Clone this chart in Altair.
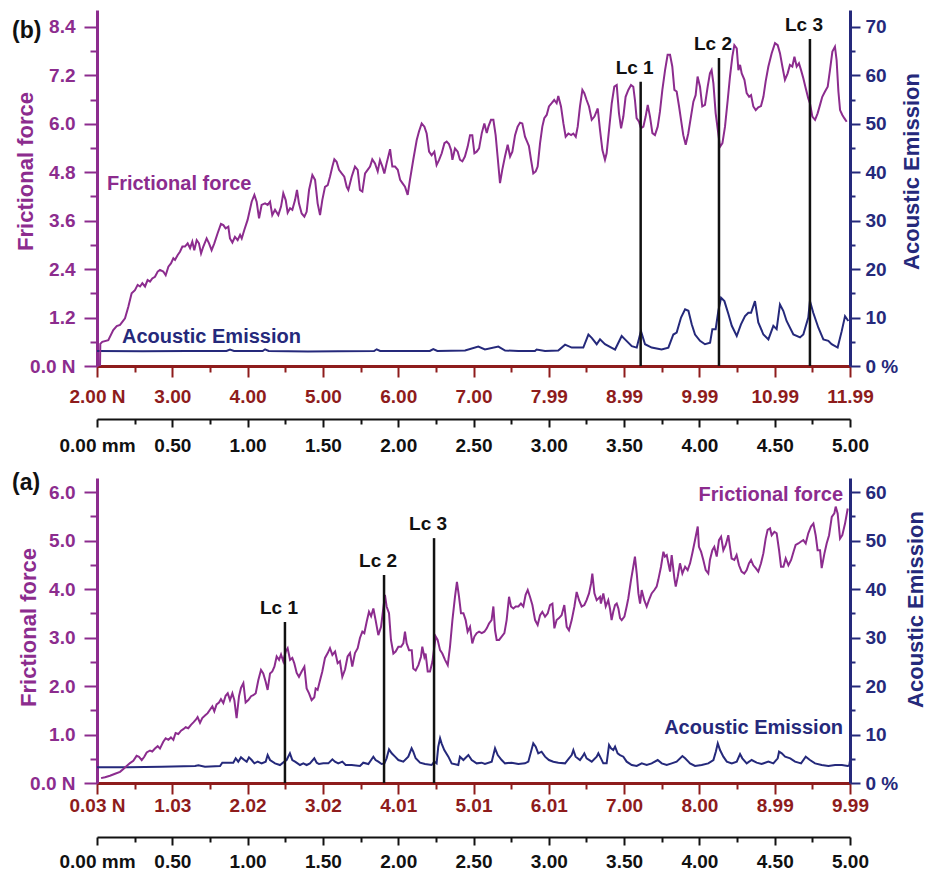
import json
import altair as alt
import pandas as pd

FONT = "Liberation Sans"
PURPLE = "#8C2C8E"
NAVY = "#25297B"
DARKRED = "#8E1C1C"
BLACK = "#111111"

# ---------------- shared tick values / labels ----------------
mm_ticks = [0, 0.25, 0.5, 0.75, 1.0, 1.25, 1.5, 1.75, 2.0, 2.25, 2.5, 2.75,
            3.0, 3.25, 3.5, 3.75, 4.0, 4.25, 4.5, 4.75, 5.0]
mm_labels = ["0.00 mm", "0.50", "1.00", "1.50", "2.00", "2.50", "3.00",
             "3.50", "4.00", "4.50", "5.00"]
lc_names = ["Lc 1", "Lc 2", "Lc 3"]

# ---------------- panel (b) ----------------
b_load_labels = ["2.00 N", "3.00", "4.00", "5.00", "6.00", "7.00", "7.99",
                 "8.99", "9.99", "10.99", "11.99"]
b_ff_ticks = [0, 0.6, 1.2, 1.8, 2.4, 3.0, 3.6, 4.2, 4.8, 5.4, 6.0, 6.6, 7.2, 7.8, 8.4]
b_ff_labels = ["0.0 N", "1.2", "2.4", "3.6", "4.8", "6.0", "7.2", "8.4"]
b_ae_ticks = [0, 5, 10, 15, 20, 25, 30, 35, 40, 45, 50, 55, 60, 65, 70]
b_ae_labels = ["0 %", "10", "20", "30", "40", "50", "60", "70"]

b_ff_mm = [0.020, 0.022, 0.035, 0.075, 0.108, 0.131, 0.153, 0.186, 0.208, 0.230,
           0.252, 0.270, 0.286, 0.301, 0.319, 0.336, 0.352, 0.367, 0.385, 0.403,
           0.418, 0.440, 0.456, 0.474, 0.491, 0.507, 0.518, 0.536, 0.551, 0.567,
           0.584, 0.602, 0.618, 0.633, 0.646, 0.662, 0.677, 0.691, 0.706, 0.728,
           0.744, 0.761, 0.779, 0.801, 0.823, 0.839, 0.854, 0.872, 0.883, 0.899,
           0.916, 0.934, 0.950, 0.961, 0.978, 1.000, 1.027, 1.045, 1.060, 1.076,
           1.093, 1.116, 1.133, 1.149, 1.164, 1.182, 1.204, 1.222, 1.237, 1.253,
           1.266, 1.282, 1.297, 1.315, 1.328, 1.341, 1.359, 1.377, 1.392, 1.408,
           1.430, 1.448, 1.465, 1.481, 1.496, 1.514, 1.532, 1.547, 1.563, 1.576,
           1.591, 1.607, 1.625, 1.642, 1.658,
           1.669, 1.691, 1.713, 1.731, 1.746, 1.762, 1.780, 1.797, 1.813, 1.828,
           1.846, 1.864, 1.879, 1.895, 1.908, 1.923, 1.946, 1.961, 1.979, 1.997,
           2.013, 2.028, 2.045, 2.063, 2.078, 2.100, 2.123, 2.138, 2.156, 2.174,
           2.189, 2.205, 2.222, 2.240, 2.255, 2.271, 2.289, 2.307, 2.322, 2.337,
           2.351, 2.360, 2.377, 2.395, 2.410, 2.426, 2.443, 2.461, 2.477, 2.492,
           2.506, 2.521, 2.537, 2.555, 2.572, 2.588, 2.599, 2.616, 2.632, 2.647,
           2.660, 2.676, 2.691, 2.709, 2.727, 2.743, 2.758, 2.776, 2.793, 2.809,
           2.824, 2.842, 2.860, 2.868, 2.882, 2.897, 2.913, 2.926, 2.942, 2.957,
           2.970, 2.986, 3.001, 3.019, 3.036, 3.052, 3.063, 3.081, 3.097, 3.112,
           3.130, 3.148, 3.163, 3.179, 3.192, 3.207, 3.223, 3.236, 3.251, 3.267,
           3.285, 3.303,
           3.325, 3.340, 3.356, 3.373, 3.384, 3.400, 3.418, 3.435, 3.451, 3.466,
           3.480, 3.495, 3.510, 3.528, 3.546, 3.561, 3.572, 3.583, 3.599, 3.612,
           3.628, 3.643, 3.657, 3.672, 3.688, 3.705, 3.723, 3.738, 3.754, 3.772,
           3.789, 3.805, 3.820, 3.834, 3.849, 3.865, 3.878, 3.893, 3.909, 3.926,
           3.944, 3.960, 3.975, 3.988, 4.004, 4.019, 4.037, 4.055, 4.070, 4.081,
           4.093, 4.108, 4.121, 4.137, 4.153, 4.170, 4.188, 4.203, 4.219, 4.232,
           4.248, 4.259, 4.270, 4.281, 4.299, 4.314, 4.330, 4.343, 4.358, 4.374,
           4.391, 4.409, 4.425, 4.440, 4.458, 4.480, 4.502, 4.520, 4.535, 4.551,
           4.568, 4.586, 4.601, 4.617, 4.631, 4.646, 4.661, 4.675, 4.690, 4.706,
           4.723, 4.734, 4.750, 4.768, 4.785, 4.801, 4.816, 4.834, 4.852, 4.867,
           4.883, 4.900, 4.911, 4.923, 4.934, 4.949, 4.962, 4.978]
b_ff = [0.00, 0.55, 0.60, 0.64, 0.89, 0.99, 1.02, 1.18, 1.47, 1.80,
        1.88, 2.01, 1.97, 2.05, 1.97, 2.13, 2.09, 2.17, 2.21, 2.34,
        2.38, 2.34, 2.25, 2.46, 2.54, 2.67, 2.63, 2.75, 2.83, 2.96,
        2.96, 3.04, 2.92, 3.08, 2.87, 3.12, 3.04, 2.79, 2.96, 3.16,
        3.04, 2.87, 3.04, 3.29, 3.52, 3.49, 3.41, 3.45, 3.16, 3.06,
        3.20, 3.12, 3.25, 3.16, 3.37, 3.62, 4.07, 4.24, 4.07, 3.66,
        3.99, 4.03, 3.99, 4.07, 3.74, 3.87, 3.74, 3.95, 4.28, 4.11,
        3.80, 3.91, 3.87, 4.11, 4.36, 4.03, 3.78, 3.70, 3.82, 4.36,
        4.73, 4.61, 4.03, 3.74, 4.11, 4.44, 4.48, 4.69, 4.94, 5.12,
        5.06, 4.86, 4.77, 4.69, 4.44,
        4.36, 4.69, 4.94, 4.86, 4.36, 4.32, 4.77, 4.86, 4.94, 5.12,
        5.02, 4.82, 5.10, 4.94, 4.77, 5.02, 5.37, 4.94, 4.94, 4.86,
        4.61, 4.53, 4.44, 4.24, 4.61, 5.11, 5.60, 5.81, 6.01, 5.93,
        5.76, 5.31, 5.22, 5.31, 4.98, 5.10, 5.27, 5.52, 5.56, 5.50,
        5.35, 5.11, 5.39, 5.31, 5.11, 5.07, 5.19, 5.43, 5.72, 5.72,
        5.27, 5.31, 5.39, 5.77, 6.01, 5.77, 5.93, 6.10, 6.10, 5.72,
        5.19, 4.53, 4.86, 5.19, 5.48, 5.19, 5.31, 5.72, 5.93, 6.03,
        6.01, 5.68, 5.52, 5.45, 5.11, 4.77, 4.82, 4.94, 5.52, 5.93,
        6.14, 6.22, 6.43, 6.51, 6.59, 6.51, 6.69, 6.43, 6.01, 5.68,
        5.76, 5.72, 5.76, 5.68, 5.93, 6.43, 6.84, 6.76, 6.59, 6.43,
        6.10, 6.18,
        6.38, 5.85, 5.35, 5.11, 5.27, 5.85, 6.51, 6.92, 6.96, 6.26,
        5.89, 6.18, 6.67, 6.84, 6.96, 6.92, 6.59, 6.14, 6.05, 5.89,
        5.93, 6.18, 6.47, 6.18, 5.77, 5.72, 5.93, 6.30, 6.84, 7.33,
        7.71, 7.71, 7.42, 6.84, 6.80, 6.43, 6.10, 5.72, 5.48, 5.76,
        6.18, 6.55, 6.71, 7.17, 6.92, 6.43, 6.47, 6.92, 7.25, 7.33,
        7.00, 6.26, 5.89, 5.43, 5.52, 5.93, 6.59, 7.17, 7.67, 7.95,
        7.87, 7.33, 7.46, 7.25, 7.09, 6.76, 6.67, 6.71, 6.43, 6.34,
        6.41, 6.44, 6.67, 7.05, 7.42, 7.75, 8.00, 7.95, 7.75, 7.42,
        7.09, 7.25, 7.46, 7.42, 7.66, 7.42, 7.50, 7.33, 7.13, 6.88,
        6.63, 6.51, 6.18, 6.10, 6.26, 6.47, 6.67, 6.80, 6.92, 7.33,
        7.79, 7.91, 7.58, 6.80, 6.34, 6.22, 6.14, 6.05]

b_ae_mm = [0.0, 0.3, 0.6, 0.86, 0.883, 0.91, 1.1, 1.116, 1.14, 1.4, 1.6, 1.84,
           1.857, 1.88, 2.0, 2.21, 2.233, 2.26, 2.444, 2.532, 2.576, 2.665, 2.710,
           2.798, 2.908, 2.919, 2.975, 3.063, 3.108, 3.152, 3.229, 3.263, 3.285,
           3.318, 3.340, 3.373, 3.440, 3.484, 3.506, 3.551, 3.584, 3.606, 3.612,
           3.639, 3.683, 3.749, 3.794, 3.827, 3.849, 3.878, 3.905, 3.927, 3.949,
           3.971, 4.004, 4.037, 4.071, 4.086, 4.108, 4.126, 4.144, 4.166, 4.193,
           4.215, 4.248, 4.276, 4.303, 4.325, 4.343, 4.369, 4.391, 4.425, 4.458,
           4.491, 4.513, 4.535, 4.557, 4.579, 4.624, 4.668, 4.690, 4.723, 4.734,
           4.756, 4.790, 4.823, 4.856, 4.878, 4.918, 4.945, 4.967, 4.989]
b_ae = [3.1, 3.05, 3.1, 3.1, 3.4, 3.1, 3.1, 3.45, 3.1, 3.0, 3.05, 3.1,
        3.45, 3.1, 3.1, 3.1, 3.5, 3.1, 3.2, 4.0, 3.4, 4.0, 3.2,
        3.1, 3.1, 3.4, 3.1, 3.2, 4.4, 3.8, 3.8, 6.5, 5.8,
        4.5, 5.5, 4.5, 3.4, 6.2, 5.5, 4.1, 3.8, 6.5, 7.2,
        4.5, 3.8, 3.4, 3.8, 6.5, 6.9, 10.0, 11.7, 11.4, 8.6,
        6.5, 5.2, 4.5, 4.8, 7.6, 7.6, 11.4, 14.1, 13.4, 10.7,
        8.3, 6.2, 8.6, 10.3, 11.0, 11.0, 13.4, 9.0, 6.5, 5.5,
        8.3, 7.6, 12.7, 11.4, 9.3, 6.5, 5.9, 6.5, 10.0, 13.4,
        11.0, 7.9, 5.5, 5.2, 4.5, 3.8, 7.2, 10.3, 9.3]

b_lc_mm = [3.610, 4.130, 4.734]
b_lc_top = [7.04, 7.63, 8.10]

# ---------------- panel (a) ----------------
a_load_labels = ["0.03 N", "1.03", "2.02", "3.02", "4.01", "5.01", "6.01",
                 "7.00", "8.00", "8.99", "9.99"]
a_ff_ticks = [0, 0.5, 1.0, 1.5, 2.0, 2.5, 3.0, 3.5, 4.0, 4.5, 5.0, 5.5, 6.0]
a_ff_labels = ["0.0 N", "1.0", "2.0", "3.0", "4.0", "5.0", "6.0"]
a_ae_ticks = [0, 5, 10, 15, 20, 25, 30, 35, 40, 45, 50, 55, 60]
a_ae_labels = ["0 %", "10", "20", "30", "40", "50", "60"]

a_ff_mm = [0.027, 0.053, 0.086, 0.120, 0.153, 0.175, 0.197, 0.219, 0.241, 0.263,
           0.279, 0.297, 0.314, 0.330, 0.352, 0.367, 0.385, 0.403, 0.418, 0.440,
           0.456, 0.474, 0.491, 0.507, 0.522, 0.540, 0.558, 0.573, 0.589, 0.606,
           0.624, 0.640, 0.655, 0.668, 0.684, 0.699, 0.717, 0.735, 0.750, 0.766,
           0.779, 0.794, 0.810, 0.823, 0.839, 0.854, 0.868, 0.883, 0.899, 0.912,
           0.927, 0.943, 0.956, 0.972, 0.987, 1.005, 1.023, 1.038, 1.054, 1.071,
           1.089, 1.104, 1.120, 1.133, 1.149, 1.164, 1.178, 1.193, 1.209, 1.222,
           1.237, 1.253, 1.266, 1.282, 1.297, 1.310, 1.326, 1.341, 1.359, 1.377,
           1.392, 1.408, 1.425, 1.443, 1.452, 1.465, 1.481, 1.496, 1.514, 1.532,
           1.547, 1.563, 1.581, 1.598, 1.613, 1.629, 1.647, 1.664, 1.680,
           1.695, 1.713, 1.731, 1.746, 1.762, 1.775, 1.791, 1.806, 1.820, 1.835,
           1.850, 1.868, 1.886, 1.901, 1.912, 1.923, 1.939, 1.952, 1.968, 1.983,
           2.001, 2.019, 2.034, 2.045, 2.056, 2.072, 2.090, 2.100, 2.116, 2.134,
           2.151, 2.160, 2.174, 2.182, 2.196, 2.211, 2.227, 2.240, 2.249, 2.262,
           2.278, 2.293, 2.311, 2.329, 2.344, 2.360, 2.377, 2.390, 2.404, 2.417,
           2.433, 2.448, 2.461, 2.477, 2.492, 2.506, 2.521, 2.537, 2.555, 2.572,
           2.588, 2.603, 2.620, 2.632, 2.643, 2.654, 2.670, 2.687, 2.705, 2.720,
           2.736, 2.749, 2.765, 2.780, 2.798, 2.815, 2.831, 2.846, 2.860, 2.875,
           2.891, 2.909, 2.926, 2.942, 2.957, 2.975, 2.993, 3.008, 3.024, 3.037,
           3.052, 3.068, 3.085, 3.103, 3.119, 3.134, 3.152, 3.170, 3.185, 3.201,
           3.218, 3.236, 3.251, 3.267, 3.281, 3.289, 3.303, 3.318, 3.340,
           3.346, 3.362, 3.378, 3.395, 3.406, 3.417, 3.428, 3.440, 3.451, 3.462,
           3.473, 3.484, 3.502, 3.517, 3.528, 3.546, 3.561, 3.572, 3.584, 3.595,
           3.606, 3.617, 3.634, 3.650, 3.665, 3.683, 3.701, 3.716, 3.727, 3.745,
           3.761, 3.771, 3.783, 3.794, 3.805, 3.816, 3.834, 3.843, 3.856, 3.871,
           3.887, 3.905, 3.922, 3.938, 3.953, 3.971, 3.989, 3.997, 4.011, 4.026,
           4.042, 4.059, 4.070, 4.086, 4.099, 4.115, 4.130, 4.144, 4.159, 4.175,
           4.192, 4.203, 4.214, 4.232, 4.247, 4.263, 4.280, 4.298, 4.314, 4.329,
           4.343, 4.358, 4.374, 4.391, 4.409, 4.425, 4.440, 4.453, 4.469, 4.480,
           4.498, 4.513, 4.529, 4.542, 4.558, 4.573, 4.591, 4.609, 4.625, 4.639,
           4.657, 4.675, 4.690, 4.706, 4.723, 4.741, 4.757, 4.772, 4.785, 4.801,
           4.812, 4.830, 4.845, 4.861, 4.879, 4.896, 4.905, 4.918, 4.934, 4.949,
           4.967, 4.985]
a_ff = [0.10, 0.12, 0.15, 0.19, 0.23, 0.29, 0.35, 0.41, 0.46, 0.56,
        0.54, 0.47, 0.54, 0.63, 0.67, 0.65, 0.71, 0.76, 0.71, 0.85,
        0.92, 0.89, 0.94, 0.89, 1.03, 1.01, 1.08, 1.11, 1.15, 1.13,
        1.20, 1.25, 1.30, 1.36, 1.24, 1.34, 1.39, 1.44, 1.51, 1.58,
        1.48, 1.62, 1.66, 1.73, 1.65, 1.80, 1.85, 1.71, 1.85, 1.71,
        1.34, 1.79, 1.96, 2.06, 1.66, 1.71, 1.79, 1.81, 1.85, 2.12,
        2.33, 2.26, 2.09, 1.92, 2.26, 2.30, 2.40, 2.61, 2.54, 2.65,
        2.51, 2.71, 2.78, 2.54, 2.58, 2.47, 2.27, 2.19, 2.30, 2.40,
        1.95, 1.85, 1.71, 1.77, 1.95, 1.92, 2.12, 2.30, 2.58, 2.68,
        2.78, 2.64, 2.71, 2.47, 2.51, 2.19, 2.34, 2.61, 2.68,
        2.40, 2.68, 2.78, 2.99, 3.12, 3.09, 3.33, 3.53, 3.44, 3.60,
        3.36, 3.05, 3.22, 3.60, 3.88, 3.64, 3.50, 2.95, 2.67, 2.71,
        2.81, 2.81, 2.88, 3.12, 2.88, 2.74, 2.74, 2.36, 2.32, 2.43,
        2.60, 2.81, 2.60, 2.67, 2.30, 2.30, 2.50, 2.81, 3.02, 2.95,
        2.74, 2.67, 2.54, 2.43, 2.81, 3.36, 3.84, 4.15, 3.84, 3.50,
        3.50, 3.36, 3.12, 3.22, 2.88, 3.02, 3.09, 3.12, 3.09, 3.12,
        3.19, 3.29, 3.36, 3.64, 3.15, 2.95, 2.95, 3.02, 3.09, 3.36,
        3.84, 3.64, 3.60, 3.64, 3.64, 3.70, 3.64, 3.88, 3.98, 3.84,
        3.67, 3.36, 3.26, 3.46, 3.53, 3.43, 3.50, 3.67, 3.70, 3.19,
        3.36, 3.40, 3.46, 3.67, 3.22, 3.15, 3.36, 3.64, 3.94, 3.77,
        3.64, 3.67, 3.77, 3.91, 4.12, 4.32, 3.91, 3.77, 3.84,
        3.70, 3.91, 3.64, 3.77, 3.60, 3.36, 3.53, 3.67, 3.70, 3.60,
        3.40, 3.36, 3.43, 3.64, 3.81, 4.19, 4.46, 4.67, 4.32, 3.91,
        3.70, 3.98, 3.77, 3.64, 3.77, 3.91, 3.98, 4.05, 4.19, 4.46,
        4.77, 4.67, 4.70, 4.53, 4.36, 4.70, 4.22, 4.05, 4.25, 4.53,
        4.32, 4.46, 4.39, 4.53, 4.74, 5.01, 5.29, 4.87, 4.77, 4.60,
        4.39, 4.32, 4.60, 4.80, 4.87, 4.67, 5.01, 5.08, 4.80, 4.91,
        5.11, 4.87, 4.63, 4.60, 4.70, 4.49, 4.36, 4.32, 4.39, 4.53,
        4.60, 4.49, 4.43, 4.36, 4.53, 4.74, 5.04, 5.22, 5.25, 5.11,
        5.18, 5.15, 4.80, 4.46, 4.46, 4.63, 4.49, 4.60, 4.77, 4.91,
        4.94, 4.98, 5.01, 4.94, 5.15, 5.29, 5.35, 5.11, 4.80, 4.80,
        4.43, 4.73, 4.94, 5.11, 5.49, 5.56, 5.70, 5.56, 5.04, 5.11,
        5.35, 5.66]

a_ae_mm = [0.0, 0.208, 0.429, 0.651, 0.673, 0.717, 0.817, 0.832, 0.905, 0.921,
           0.938, 0.956, 0.978, 0.994, 1.009, 1.027, 1.045, 1.067, 1.093, 1.120,
           1.133, 1.149, 1.182, 1.215, 1.244, 1.259, 1.281, 1.297, 1.315, 1.348,
           1.370, 1.392, 1.414, 1.443, 1.459, 1.474, 1.503, 1.536, 1.563, 1.580,
           1.602, 1.629, 1.651,
           1.691, 1.746, 1.768, 1.802, 1.835, 1.850, 1.868, 1.890, 1.908, 1.923,
           1.939, 1.957, 1.979, 2.001, 2.034, 2.067, 2.089, 2.100, 2.116, 2.145,
           2.178, 2.222, 2.240, 2.255, 2.266, 2.278, 2.288, 2.306, 2.333, 2.355,
           2.399, 2.410, 2.433, 2.466, 2.488, 2.521, 2.554, 2.576, 2.621, 2.643,
           2.661, 2.687, 2.709, 2.753, 2.798, 2.842, 2.864, 2.897, 2.913, 2.930,
           2.952, 2.975, 3.001, 3.030, 3.063, 3.108, 3.134, 3.152, 3.163, 3.178,
           3.207, 3.223, 3.236, 3.251, 3.285, 3.318,
           3.329, 3.346, 3.362, 3.384, 3.400, 3.413, 3.428, 3.440, 3.457, 3.473,
           3.495, 3.517, 3.551, 3.584, 3.617, 3.650, 3.683, 3.723, 3.750, 3.783,
           3.816, 3.849, 3.887, 3.905, 3.938, 3.971, 4.015, 4.059, 4.093, 4.109,
           4.122, 4.137, 4.159, 4.182, 4.215, 4.248, 4.270, 4.285, 4.314, 4.347,
           4.380, 4.413, 4.458, 4.491, 4.520, 4.529, 4.547, 4.569, 4.603, 4.635,
           4.675, 4.706, 4.734, 4.768, 4.812, 4.857, 4.901, 4.946, 4.985, 4.995, 5.0]
a_ae = [3.23, 3.23, 3.37, 3.51, 3.64, 3.37, 3.51, 4.19, 4.19, 5.09,
        4.40, 5.29, 4.74, 4.40, 5.29, 4.74, 4.05, 4.40, 4.05, 4.40,
        5.77, 4.74, 4.05, 3.71, 4.40, 4.74, 6.12, 4.74, 4.40, 3.71,
        4.05, 3.71, 4.05, 5.09, 4.19, 3.92, 4.05, 4.05, 4.88, 4.40,
        4.05, 4.40, 3.71,
        3.71, 3.51, 4.19, 3.92, 5.43, 4.74, 4.40, 3.92, 4.05, 5.09,
        6.94, 6.12, 5.43, 4.74, 4.40, 5.43, 7.15, 6.46, 5.09, 4.19,
        3.92, 3.71, 4.40, 4.05, 7.49, 9.21, 8.18, 6.80, 5.43, 4.05,
        3.71, 5.43, 4.74, 5.77, 4.74, 4.05, 4.19, 3.92, 4.40, 7.15,
        5.77, 4.74, 4.05, 4.19, 3.92, 4.05, 4.40, 8.18, 7.49, 6.12,
        6.46, 5.43, 4.74, 4.40, 4.19, 4.05, 5.09, 5.77, 6.80, 5.43,
        4.74, 5.43, 6.12, 5.09, 4.40, 5.43,
        6.12, 5.09, 4.05, 4.05, 7.84, 7.15, 6.80, 7.49, 6.12, 5.77,
        5.43, 4.40, 3.71, 3.51, 4.05, 3.71, 4.05, 4.74, 4.05, 3.71,
        4.05, 4.40, 5.56, 5.09, 4.05, 3.51, 3.71, 4.05, 4.74, 6.46,
        8.18, 6.80, 5.43, 4.40, 4.05, 4.40, 5.98, 5.09, 4.05, 4.74,
        4.19, 3.92, 4.40, 4.05, 5.09, 6.46, 6.12, 5.43, 5.09, 4.40,
        4.05, 5.43, 4.74, 4.05, 3.71, 3.51, 3.71, 3.71, 3.51, 3.60, 4.60]

a_lc_mm = [1.248, 1.906, 2.238]
a_lc_top = [3.32, 4.29, 5.05]


def tick_axis(values, labels, step, color, orient, major, minor, pad,
              domain_width=3, **kw):
    test = f"abs(datum.value / {step} - round(datum.value / {step})) < 0.001"
    expr = f"({test}) ? {json.dumps(labels)}[round(datum.value / {step})] : ''"
    return alt.Axis(values=values, labelExpr=expr, orient=orient,
                    tickSize={"condition": {"test": test, "value": major}, "value": minor},
                    tickWidth=2, tickColor=color, domainColor=color,
                    domainWidth=domain_width, labelColor=color, labelFont=FONT,
                    labelFontWeight="bold", labelFontSize=19, labelPadding=pad,
                    labelOverlap=False, labelFlush=False, grid=False, **kw)


def panel(ff_mm, ff, ae_mm, ae, lc_mm, lc_top, load_labels, ff_ticks, ff_labels,
          ff_step, ff_max, ae_ticks, ae_labels, ae_max, height, red_pad,
          mm_offset, mm_pad, lt_x, lt_y, rt_x, rt_y, letter, letter_y,
          ann_ff, ann_ae, ann_align):
    ff_df = pd.DataFrame({"mm": ff_mm[:len(ff)], "ff": ff[:len(ff_mm)]})
    ae_df = pd.DataFrame({"mm": ae_mm[:len(ae)], "ae": ae[:len(ae_mm)]})
    lc_df = pd.DataFrame({"mm": lc_mm, "ff": lc_top, "name": lc_names})

    x_ff = alt.X("mm:Q", scale=alt.Scale(domain=[0, 5], nice=False, zero=False),
                 axis=tick_axis(mm_ticks, load_labels, 0.5, DARKRED, "bottom",
                                11, 6, red_pad, title=None))
    y_ff = alt.Y("ff:Q", scale=alt.Scale(domain=[0, ff_max], nice=False),
                 axis=tick_axis(ff_ticks, ff_labels, ff_step, PURPLE, "left",
                                13, 7, 9, title="Frictional force",
                                titleColor=PURPLE, titleFont=FONT, titleFontSize=22,
                                titleFontWeight="bold", titleAngle=270,
                                titleX=lt_x, titleY=lt_y, titleBaseline="alphabetic",
                                titleAlign="center"))
    x_ae = alt.X("mm:Q", scale=alt.Scale(domain=[0, 5], nice=False, zero=False),
                 axis=tick_axis(mm_ticks, mm_labels, 0.5, BLACK, "bottom",
                                8, 5, mm_pad, domain_width=2, title=None,
                                offset=mm_offset))
    y_ae = alt.Y("ae:Q", scale=alt.Scale(domain=[0, ae_max], nice=False),
                 axis=tick_axis(ae_ticks, ae_labels, 10, NAVY, "right",
                                10, 5, 5, title="Acoustic Emission",
                                titleColor=NAVY, titleFont=FONT, titleFontSize=22,
                                titleFontWeight="bold", titleAngle=270,
                                titleX=rt_x, titleY=rt_y, titleBaseline="alphabetic",
                                titleAlign="center"))

    ae_line = alt.Chart(ae_df).mark_line(color=NAVY, strokeWidth=2).encode(x=x_ae, y=y_ae)
    ff_line = alt.Chart(ff_df).mark_line(color=PURPLE, strokeWidth=2).encode(x=x_ff, y=y_ff)
    rules = alt.Chart(lc_df).mark_rule(color=BLACK, strokeWidth=2.5).encode(
        x=x_ff, y=y_ff, y2=alt.Y2Datum(0))
    lc_text = alt.Chart(lc_df).mark_text(
        dx=-6, dy=-4, baseline="bottom", align="center", font=FONT,
        fontSize=19, fontWeight="bold", color=BLACK).encode(x=x_ff, y=y_ff, text="name:N")
    ann1 = alt.Chart(pd.DataFrame({"mm": [ann_ff[0]], "ff": [ann_ff[1]],
                                   "t": ["Frictional force"]})).mark_text(
        align=ann_align, baseline="middle", font=FONT, fontSize=20,
        fontWeight="bold", color=PURPLE).encode(x=x_ff, y=y_ff, text="t:N")
    ann2 = alt.Chart(pd.DataFrame({"mm": [ann_ae[0]], "ff": [ann_ae[1]],
                                   "t": ["Acoustic Emission"]})).mark_text(
        align=ann_align, baseline="middle", font=FONT, fontSize=20,
        fontWeight="bold", color=NAVY).encode(x=x_ff, y=y_ff, text="t:N")
    letter_mark = alt.Chart(pd.DataFrame({"t": [letter]})).mark_text(
        align="left", baseline="middle", font=FONT, fontSize=23,
        fontWeight="bold", color=BLACK).encode(
        x=alt.value(-85), y=alt.value(letter_y), text="t:N")

    ff_group = alt.layer(ff_line, rules, lc_text, ann1, ann2, letter_mark)
    return alt.layer(ae_line, ff_group).resolve_scale(
        x="independent", y="independent").properties(width=753, height=height)


panel_b = panel(b_ff_mm, b_ff, b_ae_mm, b_ae, b_lc_mm, b_lc_top, b_load_labels,
                b_ff_ticks, b_ff_labels, 1.2, 8.82, b_ae_ticks, b_ae_labels, 73.5,
                356, 10, 53, 9, -65, 161, 68, 161, "(b)", 21,
                (0.066, 4.51), (0.166, 0.73), "left")
panel_a = panel(a_ff_mm, a_ff, a_ae_mm, a_ae, a_lc_mm, a_lc_top, a_load_labels,
                a_ff_ticks, a_ff_labels, 1.0, 6.29, a_ae_ticks, a_ae_labels, 62.9,
                305, 2, 54, 7, -62, 149, 72, 131, "(a)", 5,
                (4.954, 5.94), (4.954, 1.13), "right")

chart = alt.vconcat(panel_b, panel_a, spacing=112, bounds="flush").properties(
    padding={"left": 12, "top": 10, "right": 6, "bottom": 6}
).configure_view(stroke=None)

chart.save("out.html", embed_options={"renderer": "svg", "actions": False})
